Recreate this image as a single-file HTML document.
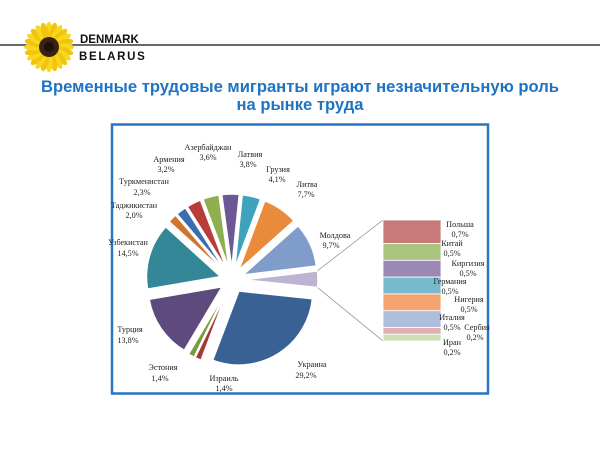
<!DOCTYPE html>
<html><head><meta charset="utf-8"><style>
body{margin:0;width:600px;height:450px;background:#fff;overflow:hidden;position:relative;font-family:"Liberation Sans",sans-serif}
.t{position:absolute;left:0;width:600px;text-align:center;color:#1f73c4;font-weight:bold;font-size:16.6px;line-height:18px}
</style></head><body>
<svg width="600" height="450" style="position:absolute;left:0;top:0" id="s">
<line x1="0" y1="45" x2="600" y2="45" stroke="#111" stroke-width="1.3"/>
<g id="sun"></g>
<text x="80" y="43" font-family="Liberation Sans" font-weight="bold" font-size="11.5" fill="#111">DENMARK</text>
<text x="79" y="60" font-family="Liberation Sans" font-weight="bold" font-size="11.5" letter-spacing="1.7" fill="#111">BELARUS</text>
<rect x="112" y="124.5" width="376" height="269" fill="none" stroke="#2a74c4" stroke-width="2.5"/>
<g id="pie"></g>
<g id="bar"></g>
<g font-family="Liberation Serif" font-size="8.2" fill="#222" text-anchor="middle" id="lb">
<text x="208" y="150">Азербайджан</text><text x="208" y="160">3,6%</text>
<text x="250" y="157">Латвия</text><text x="248" y="167">3,8%</text>
<text x="278" y="172">Грузия</text><text x="277" y="182">4,1%</text>
<text x="307" y="187">Литва</text><text x="306" y="197">7,7%</text>
<text x="335" y="238">Молдова</text><text x="331" y="248">9,7%</text>
<text x="169" y="162">Армения</text><text x="166" y="172">3,2%</text>
<text x="144" y="184">Туркменистан</text><text x="142" y="195">2,3%</text>
<text x="134" y="208">Таджикистан</text><text x="134" y="218">2,0%</text>
<text x="128" y="245">Узбекистан</text><text x="128" y="256">14,5%</text>
<text x="130" y="332">Турция</text><text x="128" y="343">13,8%</text>
<text x="163" y="370">Эстония</text><text x="160" y="381">1,4%</text>
<text x="224" y="381">Израиль</text><text x="224" y="391">1,4%</text>
<text x="312" y="367">Украина</text><text x="306" y="378">29,2%</text>
<text x="460" y="227">Польша</text><text x="460" y="237">0,7%</text>
<text x="452" y="246">Китай</text><text x="452" y="256">0,5%</text>
<text x="468" y="266">Киргизия</text><text x="468" y="276">0,5%</text>
<text x="450" y="284">Германия</text><text x="450" y="294">0,5%</text>
<text x="469" y="302">Нигерия</text><text x="469" y="312">0,5%</text>
<text x="452" y="320">Италия</text><text x="452" y="330">0,5%</text>
<text x="477" y="330">Сербия</text><text x="475" y="340">0,2%</text>
<text x="452" y="345">Иран</text><text x="452" y="355">0,2%</text>
</g>
</svg>
<div class="t" style="top:78px">Временные трудовые мигранты играют незначительную роль<br>на рынке труда</div>
<script>
var NS="http://www.w3.org/2000/svg";
function el(p,t,a){var e=document.createElementNS(NS,t);for(var k in a)e.setAttribute(k,a[k]);p.appendChild(e);return e;}
var sun=document.getElementById("sun");
for(var i=0;i<24;i++){var a=i*15;el(sun,"ellipse",{cx:49,cy:32,rx:3.6,ry:10,fill:i%2?"#f2c40f":"#f7d81c",transform:"rotate("+a+" 49 47)"});}
el(sun,"circle",{cx:49,cy:47,r:10,fill:"#3a2410"});
el(sun,"circle",{cx:49,cy:47,r:5,fill:"#1e1208"});
var d=[["o",3.6,"#bdb3d3"],["Ukr",29.2,"#3a6194"],["Isr",1.4,"#a33a36"],["Est",1.4,"#7c9a3e"],["Tur",13.8,"#5e4a7d"],["Uzb",14.5,"#348797"],["Taj",2.0,"#d0752c"],["Tkm",2.3,"#3c6ead"],["Arm",3.2,"#b83c3a"],["Aze",3.6,"#8fae50"],["Lat",3.8,"#6e5795"],["Geo",4.1,"#3fa2bc"],["Lit",7.7,"#e98b3a"],["Mol",9.7,"#7f9ccb"]];
var tot=0;d.forEach(function(x){tot+=x[1]});
var cx=232,cy=280,R=74,ang=-7*Math.PI/180,pie=document.getElementById("pie");
d.forEach(function(x){var s=x[1]/tot*2*Math.PI,a0=ang,a1=ang+s,m=(a0+a1)/2,off=(x[0]=="Ukr")?13:12;
var ox=cx+off*Math.cos(m),oy=cy+off*Math.sin(m);
var p="M"+ox+","+oy+"L"+(ox+R*Math.cos(a0))+","+(oy+R*Math.sin(a0))+"A"+R+","+R+" 0 "+(s>Math.PI?1:0)+" 1 "+(ox+R*Math.cos(a1))+","+(oy+R*Math.sin(a1))+"Z";
el(pie,"path",{d:p,fill:x[2],stroke:"#fff","stroke-width":1.5});
if(x[0]=="o"){el(pie,"line",{x1:ox+R*Math.cos(a0),y1:oy+R*Math.sin(a0),x2:383,y2:220,stroke:"#999","stroke-width":0.8});el(pie,"line",{x1:ox+R*Math.cos(a1),y1:oy+R*Math.sin(a1),x2:383,y2:341,stroke:"#999","stroke-width":0.8});}
ang=a1;});
var b=[[0.7,"#c87a78"],[0.5,"#aac37e"],[0.5,"#9c88b5"],[0.5,"#78bacd"],[0.5,"#f5a572"],[0.5,"#aebfdd"],[0.2,"#deb0b0"],[0.2,"#cde0b5"]];
var y=220,bar=document.getElementById("bar");
b.forEach(function(x){var h=x[0]/3.6*121;el(bar,"rect",{x:383,y:y,width:58,height:h,fill:x[1],stroke:"#fff","stroke-width":0.8});y+=h;});
</script>
</body></html>
